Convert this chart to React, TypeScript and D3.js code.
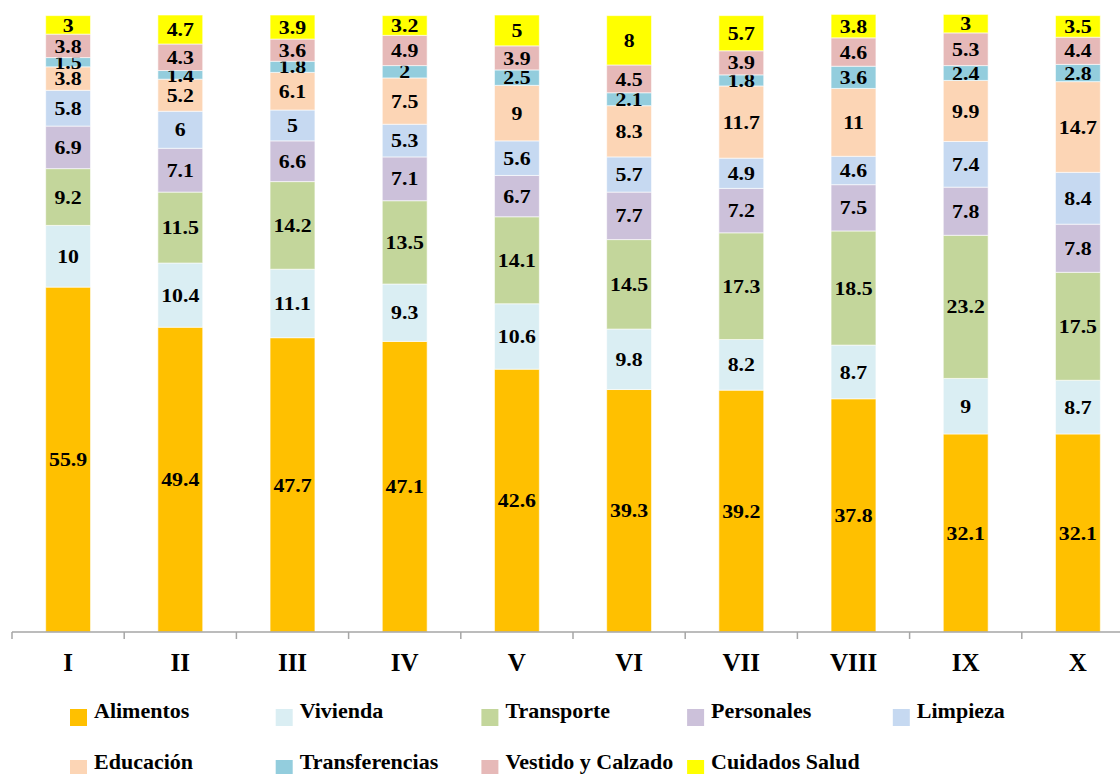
import React, { useEffect, useRef } from 'react';
import * as d3 from 'd3';

const categories = ['I', 'II', 'III', 'IV', 'V', 'VI', 'VII', 'VIII', 'IX', 'X'];
const seriesNames = [
  'Alimentos',
  'Vivienda',
  'Transporte',
  'Personales',
  'Limpieza',
  'Educación',
  'Transferencias',
  'Vestido y Calzado',
  'Cuidados Salud',
];
const alimentos = [55.9, 49.4, 47.7, 47.1, 42.6, 39.3, 39.2, 37.8, 32.1, 32.1];
const vivienda = [10, 10.4, 11.1, 9.3, 10.6, 9.8, 8.2, 8.7, 9, 8.7];
const transporte = [9.2, 11.5, 14.2, 13.5, 14.1, 14.5, 17.3, 18.5, 23.2, 17.5];
const personales = [6.9, 7.1, 6.6, 7.1, 6.7, 7.7, 7.2, 7.5, 7.8, 7.8];
const limpieza = [5.8, 6, 5, 5.3, 5.6, 5.7, 4.9, 4.6, 7.4, 8.4];
const educacion = [3.8, 5.2, 6.1, 7.5, 9, 8.3, 11.7, 11, 9.9, 14.7];
const transferencias = [1.5, 1.4, 1.8, 2, 2.5, 2.1, 1.8, 3.6, 2.4, 2.8];
const vestido = [3.8, 4.3, 3.6, 4.9, 3.9, 4.5, 3.9, 4.6, 5.3, 4.4];
const cuidados = [3, 4.7, 3.9, 3.2, 5, 8, 5.7, 3.8, 3, 3.5];

const seriesValues = [alimentos, vivienda, transporte, personales, limpieza, educacion, transferencias, vestido, cuidados];
const colors = ['#FFC000', '#DAEEF3', '#C3D69B', '#CCC1DA', '#C6D9F1', '#FCD5B5', '#93CDDD', '#E6B9B8', '#FFFF00'];

const font = '"Liberation Serif", "Times New Roman", serif';

const App = () => {
  const svgRef = useRef<SVGSVGElement>(null);

  useEffect(() => {
    const width = 1120;
    const height = 774;
    const svg = d3.select(svgRef.current).attr('width', width).attr('height', height);
    svg.selectAll('*').remove();

    const x = d3.scaleBand<string>().domain(categories).range([12, 1134]).paddingInner(0.6).paddingOuter(0.3);
    const y = d3.scaleLinear().domain([0, 100]).range([632, 15]);

    // build rows for the stack
    const rows = categories.map((c, i) => {
      const r: any = { cat: c };
      seriesNames.forEach((s, j) => (r[s] = seriesValues[j][i]));
      return r;
    });
    const stacked = d3.stack<any>().keys(seriesNames)(rows);

    const layers = svg
      .selectAll('.layer')
      .data(stacked)
      .enter()
      .append('g')
      .attr('class', 'layer')
      .attr('fill', (d, i) => colors[i]);

    layers
      .selectAll('rect')
      .data((d) => d)
      .enter()
      .append('rect')
      .attr('x', (d: any) => x(d.data.cat)!)
      .attr('width', x.bandwidth())
      .attr('y', (d) => y(d[1]))
      .attr('height', (d) => y(d[0]) - y(d[1]))
      .attr('stroke', '#ffffff')
      .attr('stroke-opacity', 0.6)
      .attr('stroke-width', 1);

    // labels are a bit wider than plain Times, stretch them horizontally
    layers
      .selectAll('text')
      .data((d) => d)
      .enter()
      .append('text')
      .attr('transform', (d: any) => {
        const cx = x(d.data.cat)! + x.bandwidth() / 2;
        const cy = (y(d[0]) + y(d[1])) / 2;
        return `translate(${cx},${cy}) scale(1.15,1)`;
      })
      .attr('dy', '0.35em')
      .attr('text-anchor', 'middle')
      .attr('font-family', font)
      .attr('font-weight', 'bold')
      .attr('font-size', 19)
      .attr('fill', '#000')
      .text((d) => String(+(d[1] - d[0]).toFixed(1)));

    // x axis
    const axis = svg.append('g').attr('transform', 'translate(0,632)');
    axis.append('line').attr('x1', 12).attr('x2', width).attr('stroke', '#a6a6a6').attr('stroke-width', 1.5);
    const step = x.step();
    d3.range(0, 10).forEach((i) => {
      const tx = 12 + i * step;
      axis.append('line').attr('x1', tx).attr('x2', tx).attr('y1', 0).attr('y2', 7).attr('stroke', '#a6a6a6').attr('stroke-width', 1.5);
    });
    axis
      .selectAll('.cat')
      .data(categories)
      .enter()
      .append('text')
      .attr('x', (d) => x(d)! + x.bandwidth() / 2)
      .attr('y', 39)
      .attr('text-anchor', 'middle')
      .attr('font-family', font)
      .attr('font-weight', 'bold')
      .attr('font-size', 25)
      .text((d) => d);

    // legend
    const legend = svg.append('g');
    seriesNames.forEach((s, i) => {
      const col = i % 5;
      const row = Math.floor(i / 5);
      const lx = 70 + col * 205.7;
      const ly = 709 + row * 51;
      legend.append('rect').attr('x', lx).attr('y', ly).attr('width', 17).attr('height', 17).attr('fill', colors[i]);
      legend
        .append('text')
        .attr('x', lx + 24)
        .attr('y', ly + 9)
        .attr('font-family', font)
        .attr('font-weight', 'bold')
        .attr('font-size', 22)
        .text(s);
    });
  }, []);

  return <svg ref={svgRef} style={{ position: 'absolute', left: 0, top: 0 }} />;
};

export default App;
